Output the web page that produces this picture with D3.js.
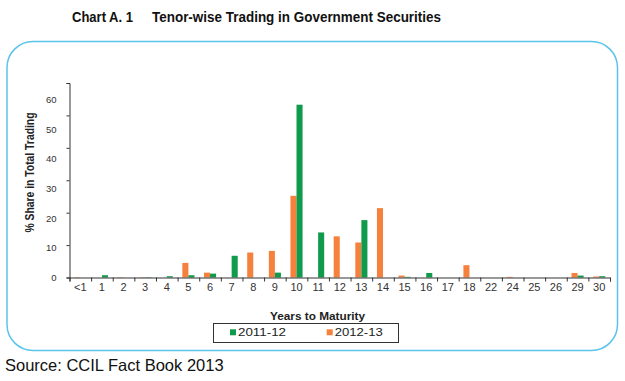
<!DOCTYPE html>
<html>
<head>
<meta charset="utf-8">
<script src="https://cdn.jsdelivr.net/npm/d3@7"></script>
<style>
  body { margin: 0; background: #fff; }
  svg { display: block; font-family: "Liberation Sans", Arial, sans-serif; }
</style>
</head>
<body>
<svg id="chart" width="625" height="381"></svg>
<script>
// tenor buckets (years to maturity)
var tenors = ['<1','1','2','3','4','5','6','7','8','9','10','11','12','13','14','15','16','17','18','22','24','25','26','29','30'];
// % share in total trading
var share1112 = [0, 0.7, 0, 0.1, 0.4, 0.7, 1.2, 6.7, 0, 1.5, 53.3, 13.9, 0, 17.7, 0, 0.2, 1.4, 0, 0, 0, 0, 0, 0, 0.6, 0.4];
var share1213 = [0.1, 0, 0.1, 0.1, 0, 4.5, 1.5, 0, 7.7, 8.2, 25.2, 0, 12.7, 10.8, 21.4, 0.6, 0, 0, 3.8, 0, 0.2, 0, 0, 1.4, 0.3];
var yTicks = [0, 10, 20, 30, 40, 50, 60];
var seriesNames = ['2012-13', '2011-12'];   // drawing order inside a group
var legendNames = ['2011-12', '2012-13'];

var colors = { '2011-12': '#0f9a4c', '2012-13': '#f5813d' };
var font = '"Liberation Sans", Arial, sans-serif';

var svg = d3.select('#chart');

// title
svg.append('text')
  .attr('x', 72).attr('y', 22)
  .attr('font-size', 15).attr('font-weight', 'bold').attr('fill', '#111')
  .attr('textLength', 61).attr('lengthAdjust', 'spacingAndGlyphs')
  .text('Chart A. 1');
svg.append('text')
  .attr('x', 152).attr('y', 22)
  .attr('font-size', 15).attr('font-weight', 'bold').attr('fill', '#111')
  .attr('textLength', 289).attr('lengthAdjust', 'spacingAndGlyphs')
  .text('Tenor-wise Trading in Government Securities');

// rounded frame
svg.append('rect')
  .attr('x', 7).attr('y', 41.5)
  .attr('width', 610.5).attr('height', 309)
  .attr('rx', 26).attr('ry', 26)
  .attr('fill', 'none').attr('stroke', '#5cc3ec').attr('stroke-width', 1.5);

var x0 = 69.5, x1 = 610, yBottom = 277.5, yTop = 83;

var x = d3.scaleBand().domain(tenors).range([x0, x1])
  .paddingInner(0.44).paddingOuter(0.22);
var xs = d3.scaleBand().domain(seriesNames).range([0, x.bandwidth()]);
var y = d3.scaleLinear().domain([0, 60]).range([yBottom, yTop]);
// the printed tick labels sit a little tighter than the tick marks
var yLab = d3.scaleLinear().domain([0, 60]).range([yBottom, 99.5]);

var rows = tenors.map(function(t, i) {
  return { tenor: t, values: { '2011-12': share1112[i], '2012-13': share1213[i] } };
});

// bars
var g = svg.append('g');
g.selectAll('g.grp').data(rows).enter().append('g')
  .attr('class', 'grp')
  .attr('transform', function(d) { return 'translate(' + x(d.tenor) + ',0)'; })
  .selectAll('rect')
  .data(function(d) { return seriesNames.map(function(s) { return { s: s, v: d.values[s] }; }); })
  .enter().append('rect')
  .attr('x', function(d) { return xs(d.s); })
  .attr('width', xs.bandwidth())
  .attr('y', function(d) { return y(d.v); })
  .attr('height', function(d) { return yBottom - y(d.v); })
  .attr('fill', function(d) { return colors[d.s]; });

// y axis: line + tick marks
var yAxis = svg.append('g')
  .attr('transform', 'translate(' + x0 + ',0)')
  .call(d3.axisLeft(y).tickValues(yTicks).tickSize(3).tickFormat(''));
yAxis.select('.domain').attr('stroke', '#333');
yAxis.selectAll('line').attr('stroke', '#333');

// y tick labels
var yLabAxis = svg.append('g')
  .attr('transform', 'translate(' + x0 + ',0)')
  .call(d3.axisLeft(yLab).tickValues(yTicks).tickSize(0).tickPadding(13));
yLabAxis.select('.domain').remove();
yLabAxis.selectAll('text').attr('font-size', 9.5).attr('fill', '#333')
  .attr('font-family', font);

// x axis: labels under bands, ticks on band boundaries
var idx = d3.scaleLinear().domain([0, tenors.length]).range([x0, x1]);
var xTickAxis = svg.append('g')
  .attr('transform', 'translate(0,' + yBottom + ')')
  .call(d3.axisBottom(idx).tickValues(d3.range(tenors.length + 1)).tickSize(4).tickFormat(''));
xTickAxis.select('.domain').attr('stroke', '#333');
xTickAxis.selectAll('line').attr('stroke', '#333');

var xLab = svg.append('g')
  .attr('transform', 'translate(0,' + yBottom + ')')
  .call(d3.axisBottom(x).tickSize(0).tickPadding(6));
xLab.select('.domain').remove();
xLab.selectAll('text').attr('font-size', 11).attr('fill', '#333')
  .attr('font-family', font);

// axis titles
svg.append('text')
  .attr('transform', 'translate(34,172.5) rotate(-90)')
  .attr('text-anchor', 'middle')
  .attr('font-size', 12).attr('font-weight', 'bold').attr('fill', '#222')
  .attr('textLength', 120).attr('lengthAdjust', 'spacingAndGlyphs')
  .text('% Share in Total Trading');
svg.append('text')
  .attr('x', 317.5).attr('y', 319.5)
  .attr('text-anchor', 'middle')
  .attr('font-size', 11).attr('font-weight', 'bold').attr('fill', '#222')
  .attr('textLength', 95).attr('lengthAdjust', 'spacingAndGlyphs')
  .text('Years to Maturity');

// legend
var lg = svg.append('g');
lg.append('rect')
  .attr('x', 213.5).attr('y', 323.5).attr('width', 185).attr('height', 19)
  .attr('fill', '#fff').attr('stroke', '#333').attr('stroke-width', 1);
var lx = d3.scalePoint().domain(legendNames).range([230, 326.7]);
var item = lg.selectAll('g.item').data(legendNames).enter().append('g')
  .attr('class', 'item')
  .attr('transform', function(d) { return 'translate(' + lx(d) + ',332.3)'; });
item.append('rect')
  .attr('x', 0).attr('y', -3).attr('width', 6).attr('height', 6)
  .attr('fill', function(d) { return colors[d]; });
item.append('text')
  .attr('x', 8).attr('y', 4)
  .attr('font-size', 11).attr('fill', '#222')
  .attr('textLength', 48).attr('lengthAdjust', 'spacingAndGlyphs')
  .text(function(d) { return d; });

// source note
svg.append('text')
  .attr('x', 5).attr('y', 371)
  .attr('font-size', 16.5).attr('fill', '#111')
  .text('Source: CCIL Fact Book 2013');
</script>
</body>
</html>
